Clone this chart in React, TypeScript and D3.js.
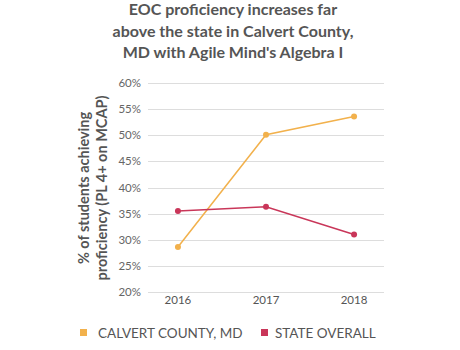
import React, { useEffect, useRef } from "react";
import * as d3 from "d3";

const years = ["2016", "2017", "2018"];
const calvert = [28.6, 50.1, 53.6];
const stateOverall = [35.5, 36.3, 31.0];
const yTicks = [20, 25, 30, 35, 40, 45, 50, 55, 60];
const titleLines = [
  "EOC proficiency increases far",
  "above the state in Calvert County,",
  "MD with Agile Mind's Algebra I",
];
const yLabelLines = ["% of students achieving", "proficiency (PL 4+ on MCAP)"];
const seriesNames = ["CALVERT COUNTY, MD", "STATE OVERALL"];
const seriesColors = ["#f2b14c", "#c93659"];

const W = 460;
const H = 350;
const FONT = "Lato, 'Open Sans', sans-serif";

export default function App() {
  const ref = useRef<SVGSVGElement>(null);

  useEffect(() => {
    const svg = d3.select(ref.current);
    svg.selectAll("*").remove();

    const left = 148;
    const right = 384;
    const top = 83;
    const bottom = 292;

    const x = d3.scalePoint().domain(years).range([left, right]).padding(0.34);
    const y = d3.scaleLinear().domain([20, 60]).range([bottom, top]);

    svg.append("rect").attr("width", W).attr("height", H).attr("fill", "#fff");

    // title
    svg
      .append("g")
      .selectAll("text")
      .data(titleLines)
      .enter()
      .append("text")
      .attr("x", 233)
      .attr("y", (d, i) => 15 + i * 21.5)
      .attr("text-anchor", "middle")
      .attr("font-family", FONT)
      .attr("font-weight", "bold")
      .attr("font-size", 16)
      .attr("fill", "#555")
      .text(d => d);

    // grid
    svg
      .append("g")
      .selectAll("line")
      .data(yTicks)
      .enter()
      .append("line")
      .attr("x1", left)
      .attr("x2", right)
      .attr("y1", d => Math.round(y(d)) + 0.5)
      .attr("y2", d => Math.round(y(d)) + 0.5)
      .attr("stroke", "#ddd")
      .attr("stroke-width", 1);

    // y ticks
    svg
      .append("g")
      .selectAll("text")
      .data(yTicks)
      .enter()
      .append("text")
      .attr("x", 141)
      .attr("y", d => y(d) + 4)
      .attr("text-anchor", "end")
      .attr("font-family", FONT)
      .attr("font-size", 11.5)
      .attr("fill", "#666")
      .text(d => d + "%");

    // x ticks
    svg
      .append("g")
      .selectAll("text")
      .data(years)
      .enter()
      .append("text")
      .attr("x", d => x(d) as number)
      .attr("y", 304)
      .attr("text-anchor", "middle")
      .attr("font-family", FONT)
      .attr("font-size", 11.5)
      .attr("fill", "#555")
      .text(d => d);

    // y label
    svg
      .append("g")
      .attr("transform", "translate(92,188) rotate(-90)")
      .selectAll("text")
      .data(yLabelLines)
      .enter()
      .append("text")
      .attr("x", 0)
      .attr("y", (d, i) => -3 + i * 18)
      .attr("text-anchor", "middle")
      .attr("font-family", FONT)
      .attr("font-weight", "bold")
      .attr("font-size", 14.5)
      .attr("fill", "#555")
      .text(d => d);

    const line = d3
      .line<number>()
      .x((d, i) => x(years[i]) as number)
      .y(d => y(d));

    [calvert, stateOverall].forEach((vals, k) => {
      svg
        .append("path")
        .datum(vals)
        .attr("d", line)
        .attr("fill", "none")
        .attr("stroke", seriesColors[k])
        .attr("stroke-width", 1.5);
      svg
        .append("g")
        .selectAll("circle")
        .data(vals)
        .enter()
        .append("circle")
        .attr("cx", (d, i) => x(years[i]) as number)
        .attr("cy", d => y(d))
        .attr("r", 3)
        .attr("fill", seriesColors[k]);
    });

    // legend
    const legendX = [80, 261];
    const legendTextX = [98, 275];
    const lg = svg
      .append("g")
      .selectAll("g")
      .data(seriesNames)
      .enter()
      .append("g");
    lg.append("rect")
      .attr("x", (d, i) => legendX[i])
      .attr("y", 329)
      .attr("width", 7)
      .attr("height", 7)
      .attr("fill", (d, i) => seriesColors[i]);
    lg.append("text")
      .attr("x", (d, i) => legendTextX[i])
      .attr("y", 338)
      .attr("font-family", FONT)
      .attr("font-size", 13.5)
      .attr("fill", "#555")
      .text(d => d);
  }, []);

  return (
    <svg
      ref={ref}
      width={W}
      height={H}
      style={{ position: "absolute", left: 0, top: 0 }}
    />
  );
}
